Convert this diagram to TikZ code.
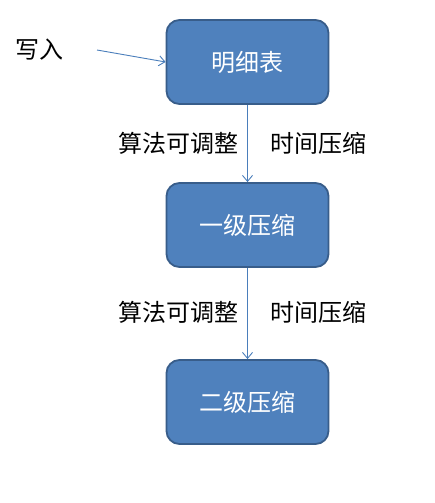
\documentclass[tikz,border=0pt]{standalone}
\usepackage{fontspec}
\newfontfamily\cjk{Noto Sans CJK SC}
\usetikzlibrary{arrows.meta}
\definecolor{boxfill}{HTML}{4F81BD}
\definecolor{boxline}{HTML}{385D8A}
\definecolor{arrowc}{HTML}{4A7EBB}
\begin{document}
\begin{tikzpicture}[x=1pt,y=-1pt,
  box/.style={draw=boxline,line width=1.8pt,fill=boxfill,rounded corners=13pt,
    minimum width=162pt,minimum height=84pt,text=white,font=\cjk\fontsize{24}{26}\selectfont,inner sep=0pt},
  lbl/.style={font=\cjk\fontsize{24}{26}\selectfont,text=black,inner sep=0pt},
  conn/.style={draw=arrowc,line width=0.9pt,-{Straight Barb[length=6pt,width=10pt]}}]
\useasboundingbox[fill=white] (0,0) rectangle (434,503);
\node[box] (b1) at (247.5,62) {明细表};
\node[box] (b2) at (247.5,225) {一级压缩};
\node[box] (b3) at (247.5,402) {二级压缩};
\node[lbl] (w) at (39,50) {写入};
\coordinate (ws) at (97,50);
\draw[conn] (ws) -- (b1.west);
\draw[conn] (b1) -- (b2);
\draw[conn] (b2) -- (b3);
\node[lbl] (l1) at (178,143) {算法可调整};
\node[lbl] (r1) at (318,143) {时间压缩};
\node[lbl] (l2) at (178,312) {算法可调整};
\node[lbl] (r2) at (318,312) {时间压缩};
\end{tikzpicture}
\end{document}
